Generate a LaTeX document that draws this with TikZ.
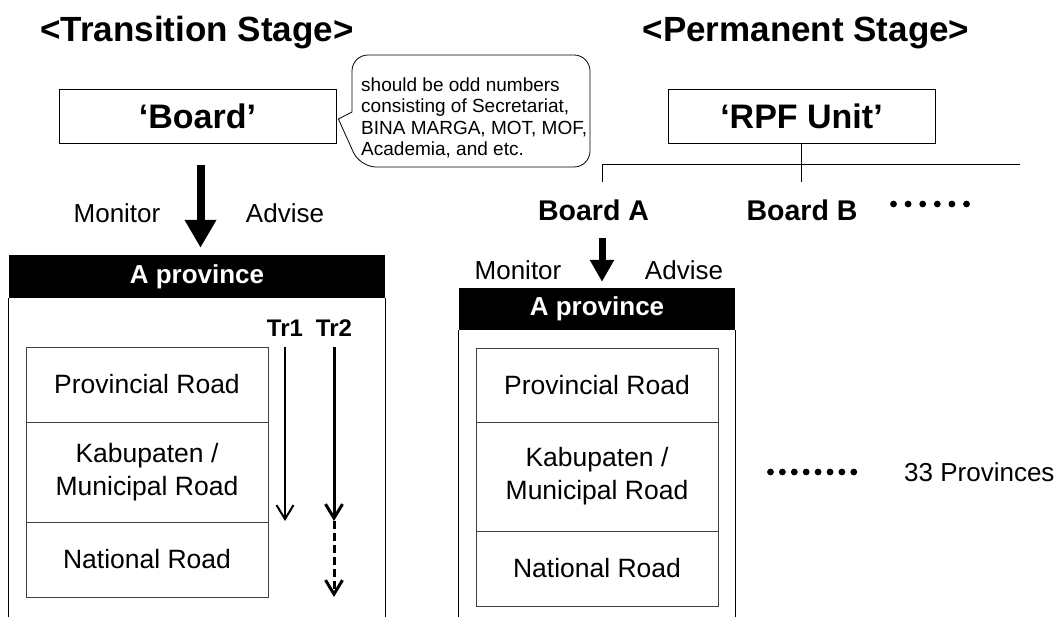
\documentclass[tikz,border=0pt]{standalone}
\usepackage{fontspec}
\setmainfont{Liberation Sans}
\usetikzlibrary{arrows.meta, positioning}
\newcommand{\fsz}[2]{\fontsize{#1}{#2}\selectfont}

\begin{document}
\begin{tikzpicture}[x=1pt, y=-1pt,
        stagetitle/.style={font=\bfseries\fsz{35}{40}},
        unitbox/.style={draw, line width=0.8pt, minimum height=54pt, inner sep=0pt, font=\bfseries\fsz{34}{40}},
        boardlbl/.style={font=\bfseries\fsz{28.5}{32}},
        sidelbl/.style={font=\fsz{26}{30}},
        provbar/.style={fill=black, text=white, inner sep=0pt, font=\bfseries\fsz{26}{30}},
        roadbox/.style={draw=black!75, line width=0.8pt, minimum width=242pt, inner sep=0pt, outer sep=0pt, align=center, font=\fsz{26.5}{33}},
        frame/.style={line width=0.8pt},
        bigarrow/.style={line width=8pt, -{Triangle[width=30pt, length=28pt]}},
        trlbl/.style={font=\bfseries\fsz{24}{28}},
        trarrow/.style={-{Straight Barb[length=14pt, width=17pt]}}]
    \useasboundingbox (0,0) rectangle (1059,617);
    \coordinate (bot) at (0,620);

    % transition stage
    \node[stagetitle] (ttrans) at (197,33) {<Transition Stage>};
    \node[unitbox, minimum width=277pt] (board) at (197.5,116) {‘Board’};
    \node[align=left, inner sep=0pt, font=\fsz{19}{21.5}, anchor=west] (note) at (361,118)
        {should be odd numbers\\consisting of Secretariat,\\BINA MARGA, MOT, MOF,\\Academia, and etc.};
    \draw[line width=0.8pt, rounded corners=16pt] ([xshift=2pt, yshift=-3pt]board.east)
        [sharp corners] -- (352,112) [rounded corners=16pt] -- (352,55) -- (590,55) -- (590,167)
        -- (360,167) [sharp corners] -- cycle;

    \node[provbar, minimum width=376pt, minimum height=43pt] (provA) at (197,276.5) {A province};
    \draw[frame] (provA.south west) -- (provA.south west |- bot);
    \draw[frame] (provA.south east) -- (provA.south east |- bot);
    \draw[bigarrow] ([xshift=3pt, yshift=-22pt]board.south) -- ([xshift=3.5pt, yshift=7pt]provA.north);
    \node[sidelbl] (monA) at (117,213) {Monitor};
    \node[sidelbl] (advA) at (285,213) {Advise};

    \node[roadbox, minimum height=75pt] (roadA1) at (147,384.5) {Provincial Road};
    \node[roadbox, minimum height=100pt, below=0pt of roadA1] (roadA2) {Kabupaten /\\Municipal Road};
    \node[roadbox, minimum height=75pt, below=0pt of roadA2] (roadA3) {National Road};

    \node[trlbl] (tr1) at (285,328) {Tr1};
    \node[trlbl] (tr2) at (334,328) {Tr2};
    \coordinate (tr1end) at (285,521);
    \coordinate (tr2mid) at (334,521);
    \coordinate (tr2end) at (334,597);
    \draw[trarrow, line width=2pt] ([yshift=-19pt]tr1.center) -- (tr1end);
    \draw[trarrow, line width=3pt] ([yshift=-19pt]tr2.center) -- (tr2mid);
    \draw[trarrow, line width=3pt, dash pattern=on 8pt off 4pt] (tr2mid) -- (tr2end);

    % permanent stage
    \node[stagetitle] (tperm) at (806,33) {<Permanent Stage>};
    \node[unitbox, minimum width=267pt] (rpf) at (801.5,116) {‘RPF Unit’};
    \coordinate (brA) at (602,182);
    \coordinate (brEnd) at (1020,164);
    \draw[frame] (rpf.south) -- ++(0,39);
    \draw[frame] (brA) |- (brEnd);
    \node[boardlbl] (boardA) at (593.5,210) {Board A};
    \node[boardlbl] (boardB) at (802,210) {Board B};
    \foreach \i in {0,...,5}
        \fill (893.5+14.6*\i,204) circle (3.4pt);

    \node[provbar, minimum width=276pt, minimum height=42pt] (provB) at (597,309) {A province};
    \draw[frame] (provB.south west) -- (provB.south west |- bot);
    \draw[frame] (provB.south east) -- (provB.south east |- bot);
    \draw[bigarrow, line width=7pt, -{Triangle[width=23pt, length=22pt]}] ([xshift=8.5pt, yshift=-28pt]boardA.center) -- ([xshift=5pt, yshift=6pt]provB.north);
    \node[sidelbl] (monB) at (518,270) {Monitor};
    \node[sidelbl] (advB) at (684,270) {Advise};

    \node[roadbox, minimum height=74pt] (roadB1) at (597,385) {Provincial Road};
    \node[roadbox, minimum height=109pt, below=0pt of roadB1] (roadB2) {Kabupaten /\\Municipal Road};
    \node[roadbox, minimum height=75pt, below=0pt of roadB2] (roadB3) {National Road};

    \foreach \i in {0,...,7}
        \fill (770.5+11.9*\i,472) circle (3.4pt);
    \node[font=\fsz{26}{30}, anchor=west, inner sep=0pt] (nprov) at (904,472) {33 Provinces};
\end{tikzpicture}
\end{document}
